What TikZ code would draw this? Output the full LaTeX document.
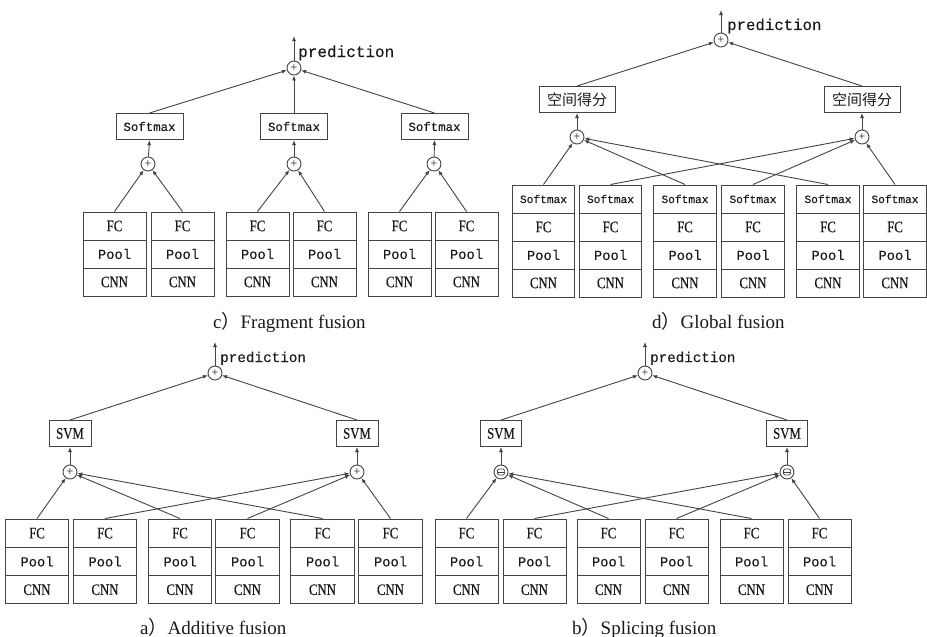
\documentclass[tikz,border=0pt]{standalone}
\usepackage{fontspec}
\usetikzlibrary{arrows.meta}
\setmainfont{Liberation Serif}
\newfontfamily\cellserif[FakeStretch=0.8,FakeBold=0.3]{Liberation Serif}
\newfontfamily\cellmono[FakeBold=0.2]{Liberation Mono}
\newfontfamily\cjk{Noto Sans CJK SC}
\definecolor{linec}{HTML}{444444}
\definecolor{textc}{HTML}{1A1A1A}

% cell labels
\newcommand\tFC{{\cellserif\fontsize{16}{16}\selectfont FC}}
\newcommand\tCNN{{\cellserif\fontsize{16}{16}\selectfont CNN}}
\newcommand\tSVM{{\cellserif\fontsize{16}{16}\selectfont SVM}}
\newcommand\tPool{{\cellmono\fontsize{13.8}{13.8}\selectfont Pool}}
\newcommand\tSm{{\cellmono\fontsize{11.2}{11.2}\selectfont Softmax}}

% one stacked network column: name, x centre, top y, width, row height, labels
\newcommand\mkcol[6]{%
  \foreach \lbl [count=\i] in {#6} {
    \node[cell, minimum width=#4, minimum height=#5pt] (#1-\i)
      at (#2, {#3+#5/2+#5*(\i-1)}) {\lbl};
  }}

\begin{document}
\begin{tikzpicture}[x=1pt, y=-1pt,
  cell/.style={draw=linec, line width=1pt, inner sep=0pt, text=textc},
  topbox/.style={draw=linec, line width=1pt, inner sep=0pt, text=textc, minimum height=26pt},
  plusn/.style={circle, draw=linec, line width=0.9pt, minimum size=14pt, inner sep=0pt,
    text=textc, font=\fontsize{12}{12}\selectfont},
  splicen/.style={circle, draw=linec, line width=0.9pt, minimum size=14pt, inner sep=0pt,
    path picture={
      \draw[linec, line width=0.7pt, rounded corners=1.5pt]
        ([xshift=-3.6pt,yshift=-3pt]path picture bounding box.center) rectangle ++(7.2pt,6pt);
      \draw[linec, line width=0.7pt]
        ([xshift=-3.6pt]path picture bounding box.center) -- ++(7.2pt,0pt);
    }},
  arr/.style={draw=linec, line width=0.9pt, -{Latex[length=5pt,width=4pt]}},
  predl/.style={text=textc, inner sep=0pt, anchor=base west},
  capt/.style={text=textc, inner sep=0pt, anchor=base west, font=\fontsize{19}{19}\selectfont}
]
\fill[white] (0,0) rectangle (927,637);
\useasboundingbox (0,0) rectangle (927,637);

% ---------------- c) Fragment fusion ----------------
\mkcol{c1}{114.5}{212}{63pt}{28}{\tFC,\tPool,\tCNN}
\mkcol{c2}{182.5}{212}{63pt}{28}{\tFC,\tPool,\tCNN}
\mkcol{c3}{257.5}{212}{63pt}{28}{\tFC,\tPool,\tCNN}
\mkcol{c4}{324.5}{212}{63pt}{28}{\tFC,\tPool,\tCNN}
\mkcol{c5}{399.5}{212}{63pt}{28}{\tFC,\tPool,\tCNN}
\mkcol{c6}{466.5}{212}{63pt}{28}{\tFC,\tPool,\tCNN}
\node[plusn] (cA) at (148,164) {+};
\node[plusn] (cB) at (294,164) {+};
\node[plusn] (cC) at (434,164) {+};
\node[topbox, minimum width=67pt, font=\cellmono\fontsize{12.4}{12.4}\selectfont] (cS1) at (149.5,126.5) {Softmax};
\node[topbox, minimum width=67pt, font=\cellmono\fontsize{12.4}{12.4}\selectfont] (cS2) at (294,126.5) {Softmax};
\node[topbox, minimum width=67pt, font=\cellmono\fontsize{12.4}{12.4}\selectfont] (cS3) at (434.5,126.5) {Softmax};
\node[plusn] (cT) at (294,68) {+};
\coordinate (cUp) at (294,36);
\draw[arr] (c1-1.north) -- (cA);
\draw[arr] (c2-1.north) -- (cA);
\draw[arr] (c3-1.north) -- (cB);
\draw[arr] (c4-1.north) -- (cB);
\draw[arr] (c5-1.north) -- (cC);
\draw[arr] (c6-1.north) -- (cC);
\draw[arr] (cA) -- (cS1.south);
\draw[arr] (cB) -- (cS2.south);
\draw[arr] (cC) -- (cS3.south);
\draw[arr] (cS1.north) -- (cT);
\draw[arr] (cS2.north) -- (cT);
\draw[arr] (cS3.north) -- (cT);
\draw[arr] (cT) -- (cUp);
\node[predl, font=\cellmono\fontsize{16}{16}\selectfont] (cPred) at (298,57) {prediction};
\node[capt] (cCap) at (213,328) {c{\cjk ）}Fragment fusion};

% ---------------- d) Global fusion ----------------
\mkcol{d1}{543.5}{185}{62.5pt}{28}{\tSm,\tFC,\tPool,\tCNN}
\mkcol{d2}{610.5}{185}{62.5pt}{28}{\tSm,\tFC,\tPool,\tCNN}
\mkcol{d3}{685}{185}{62.5pt}{28}{\tSm,\tFC,\tPool,\tCNN}
\mkcol{d4}{753}{185}{62.5pt}{28}{\tSm,\tFC,\tPool,\tCNN}
\mkcol{d5}{828}{185}{62.5pt}{28}{\tSm,\tFC,\tPool,\tCNN}
\mkcol{d6}{895}{185}{62.5pt}{28}{\tSm,\tFC,\tPool,\tCNN}
\node[plusn] (dA) at (577,137) {+};
\node[plusn] (dB) at (862,137) {+};
\node[topbox, minimum width=76pt, font=\cjk\fontsize{15}{15}\selectfont] (dS1) at (577,99.5) {空间得分};
\node[topbox, minimum width=76pt, font=\cjk\fontsize{15}{15}\selectfont] (dS2) at (862,99.5) {空间得分};
\node[plusn] (dT) at (721,40) {+};
\coordinate (dUp) at (721,10);
\draw[arr] (d1-1.north) -- (dA);
\draw[arr] (d3-1.north) -- (dA);
\draw[arr] (d5-1.north) -- (dA);
\draw[arr] (d2-1.north) -- (dB);
\draw[arr] (d4-1.north) -- (dB);
\draw[arr] (d6-1.north) -- (dB);
\draw[arr] (dA) -- (dS1.south);
\draw[arr] (dB) -- (dS2.south);
\draw[arr] (dS1.north) -- (dT);
\draw[arr] (dS2.north) -- (dT);
\draw[arr] (dT) -- (dUp);
\node[predl, font=\cellmono\fontsize{15.7}{15.7}\selectfont] (dPred) at (727,30) {prediction};
\node[capt] (dCap) at (652,328) {d{\cjk ）}Global fusion};

% ---------------- a) Additive fusion ----------------
\mkcol{a1}{37}{519}{63.5pt}{28.3}{\tFC,\tPool,\tCNN}
\mkcol{a2}{105}{519}{63.5pt}{28.3}{\tFC,\tPool,\tCNN}
\mkcol{a3}{180}{519}{63.5pt}{28.3}{\tFC,\tPool,\tCNN}
\mkcol{a4}{247.5}{519}{63.5pt}{28.3}{\tFC,\tPool,\tCNN}
\mkcol{a5}{322.5}{519}{63.5pt}{28.3}{\tFC,\tPool,\tCNN}
\mkcol{a6}{390.5}{519}{63.5pt}{28.3}{\tFC,\tPool,\tCNN}
\node[plusn] (aA) at (70,472) {+};
\node[plusn] (aB) at (357,472) {+};
\node[topbox, minimum width=42pt] (aS1) at (70,433.5) {\tSVM};
\node[topbox, minimum width=42pt] (aS2) at (357,433.5) {\tSVM};
\node[plusn] (aT) at (215,373) {+};
\coordinate (aUp) at (215,342);
\draw[arr] (a1-1.north) -- (aA);
\draw[arr] (a3-1.north) -- (aA);
\draw[arr] (a5-1.north) -- (aA);
\draw[arr] (a2-1.north) -- (aB);
\draw[arr] (a4-1.north) -- (aB);
\draw[arr] (a6-1.north) -- (aB);
\draw[arr] (aA) -- (aS1.south);
\draw[arr] (aB) -- (aS2.south);
\draw[arr] (aS1.north) -- (aT);
\draw[arr] (aS2.north) -- (aT);
\draw[arr] (aT) -- (aUp);
\node[predl, font=\cellmono\fontsize{14.3}{14.3}\selectfont] (aPred) at (220,362) {prediction};
\node[capt] (aCap) at (140,634) {a{\cjk ）}Additive fusion};

% ---------------- b) Splicing fusion ----------------
\mkcol{b1}{466.5}{519}{63pt}{28.3}{\tFC,\tPool,\tCNN}
\mkcol{b2}{534.5}{519}{63pt}{28.3}{\tFC,\tPool,\tCNN}
\mkcol{b3}{608.5}{519}{63pt}{28.3}{\tFC,\tPool,\tCNN}
\mkcol{b4}{676.5}{519}{63pt}{28.3}{\tFC,\tPool,\tCNN}
\mkcol{b5}{751.5}{519}{63pt}{28.3}{\tFC,\tPool,\tCNN}
\mkcol{b6}{819.5}{519}{63pt}{28.3}{\tFC,\tPool,\tCNN}
\node[splicen] (bA) at (501,472) {};
\node[splicen] (bB) at (787,472) {};
\node[topbox, minimum width=41pt] (bS1) at (501,433.5) {\tSVM};
\node[topbox, minimum width=41pt] (bS2) at (787,433.5) {\tSVM};
\node[plusn] (bT) at (645,373) {+};
\coordinate (bUp) at (645,342);
\draw[arr] (b1-1.north) -- (bA);
\draw[arr] (b3-1.north) -- (bA);
\draw[arr] (b5-1.north) -- (bA);
\draw[arr] (b2-1.north) -- (bB);
\draw[arr] (b4-1.north) -- (bB);
\draw[arr] (b6-1.north) -- (bB);
\draw[arr] (bA) -- (bS1.south);
\draw[arr] (bB) -- (bS2.south);
\draw[arr] (bS1.north) -- (bT);
\draw[arr] (bS2.north) -- (bT);
\draw[arr] (bT) -- (bUp);
\node[predl, font=\cellmono\fontsize{14.2}{14.2}\selectfont] (bPred) at (650,362) {prediction};
\node[capt] (bCap) at (572,634) {b{\cjk ）}Splicing fusion};
\end{tikzpicture}
\end{document}
